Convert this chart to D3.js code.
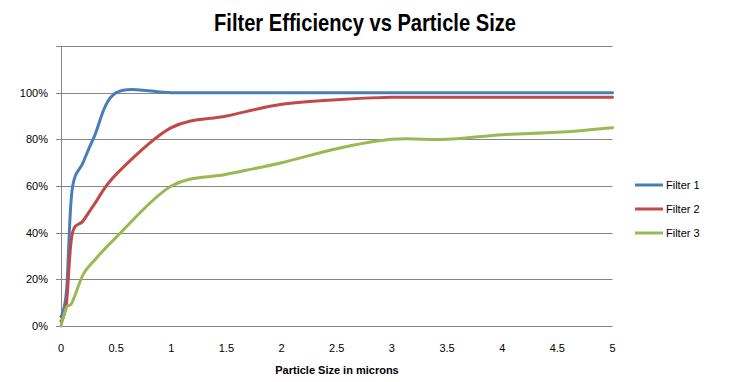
<!DOCTYPE html>
<html><head><meta charset="utf-8">
<script src="https://cdn.jsdelivr.net/npm/d3@7"></script>
<style>body{margin:0;background:#fff}svg{display:block}</style>
</head><body>
<script>
const sizes   = [0, 0.05, 0.1, 0.2, 0.3, 0.5, 1, 1.5, 2, 2.5, 3, 3.5, 4, 4.5, 5];
const filter1 = [4, 15, 58, 70, 81, 100, 100, 100, 100, 100, 100, 100, 100, 100, 100];
const filter2 = [2, 10, 39, 45, 52, 65, 85, 90, 95, 97, 98, 98, 98, 98, 98];
const filter3 = [0, 8, 10, 22, 28, 38, 60, 65, 70, 76, 80, 80, 82, 83, 85];
const seriesNames = ["Filter 1", "Filter 2", "Filter 3"];
const xTicks = [0, 0.5, 1, 1.5, 2, 2.5, 3, 3.5, 4, 4.5, 5];
const yTicks = [0, 20, 40, 60, 80, 100, 120];
const colors = ["#4A7EBB", "#BE4B48", "#98B954"];

const W = 734, H = 382;
const svg = d3.select("body").append("svg").attr("width", W).attr("height", H);
const x = d3.scaleLinear().domain([0, 5]).range([61, 612.5]);
const y = d3.scaleLinear().domain([0, 120]).range([326, 46]);

// gridlines
svg.append("g").selectAll("line").data(yTicks.filter(d => d > 0)).join("line")
  .attr("x1", 56).attr("x2", 612.5)
  .attr("y1", d => Math.round(y(d)) + 0.5).attr("y2", d => Math.round(y(d)) + 0.5)
  .attr("stroke", "#868686").attr("stroke-width", 1);

// y axis line
svg.append("line").attr("x1", 61.5).attr("x2", 61.5).attr("y1", 46).attr("y2", 326.5)
  .attr("stroke", "#868686");
// x axis line
svg.append("line").attr("x1", 56).attr("x2", 612.5).attr("y1", 326.5).attr("y2", 326.5)
  .attr("stroke", "#868686");

// y labels
svg.append("g").selectAll("text").data(yTicks.filter(d => d <= 100)).join("text")
  .attr("x", 48).attr("y", d => y(d)).attr("dy", "0.35em")
  .attr("text-anchor", "end").attr("font-family", "Liberation Sans, Arial, sans-serif")
  .attr("font-size", 11).attr("fill", "#000").text(d => d + "%");

// x labels
svg.append("g").selectAll("text").data(xTicks).join("text")
  .attr("x", d => x(d)).attr("y", 348).attr("dy", "0.35em")
  .attr("text-anchor", "middle").attr("font-family", "Liberation Sans, Arial, sans-serif")
  .attr("font-size", 11).attr("fill", "#000").text(d => d);

// axis title
svg.append("text").attr("x", 337).attr("y", 370).attr("dy", "0.35em")
  .attr("text-anchor", "middle").attr("font-family", "Liberation Sans, Arial, sans-serif")
  .attr("font-weight", "bold").attr("font-size", 11).text("Particle Size in microns");

// title
svg.append("text").attr("x", 365).attr("y", 31).attr("text-anchor", "middle")
  .attr("font-family", "Liberation Sans Narrow, Arial Narrow, Liberation Sans, sans-serif")
  .attr("font-weight", "bold").attr("font-size", 24).attr("textLength", 302)
  .attr("lengthAdjust", "spacingAndGlyphs")
  .text("Filter Efficiency vs Particle Size");

// lines
const series = [filter1, filter2, filter3];
const line = d3.line().x(d => x(d[0])).y(d => y(d[1])).curve(d3.curveCatmullRom.alpha(0));
series.forEach((vals, i) => {
  svg.append("path").datum(sizes.map((s, j) => [s, vals[j]]))
    .attr("d", line).attr("fill", "none").attr("stroke", colors[i])
    .attr("stroke-width", 3).attr("stroke-linejoin", "round").attr("stroke-linecap", "round");
});

// legend
const lg = svg.append("g");
seriesNames.forEach((n, i) => {
  const ly = 185 + i * 24;
  lg.append("line").attr("x1", 635).attr("x2", 663).attr("y1", ly).attr("y2", ly)
    .attr("stroke", colors[i]).attr("stroke-width", 3);
  lg.append("text").attr("x", 666).attr("y", ly).attr("dy", "0.35em")
    .attr("font-family", "Liberation Sans, Arial, sans-serif").attr("font-size", 11)
    .text(n);
});
</script>
</body></html>
